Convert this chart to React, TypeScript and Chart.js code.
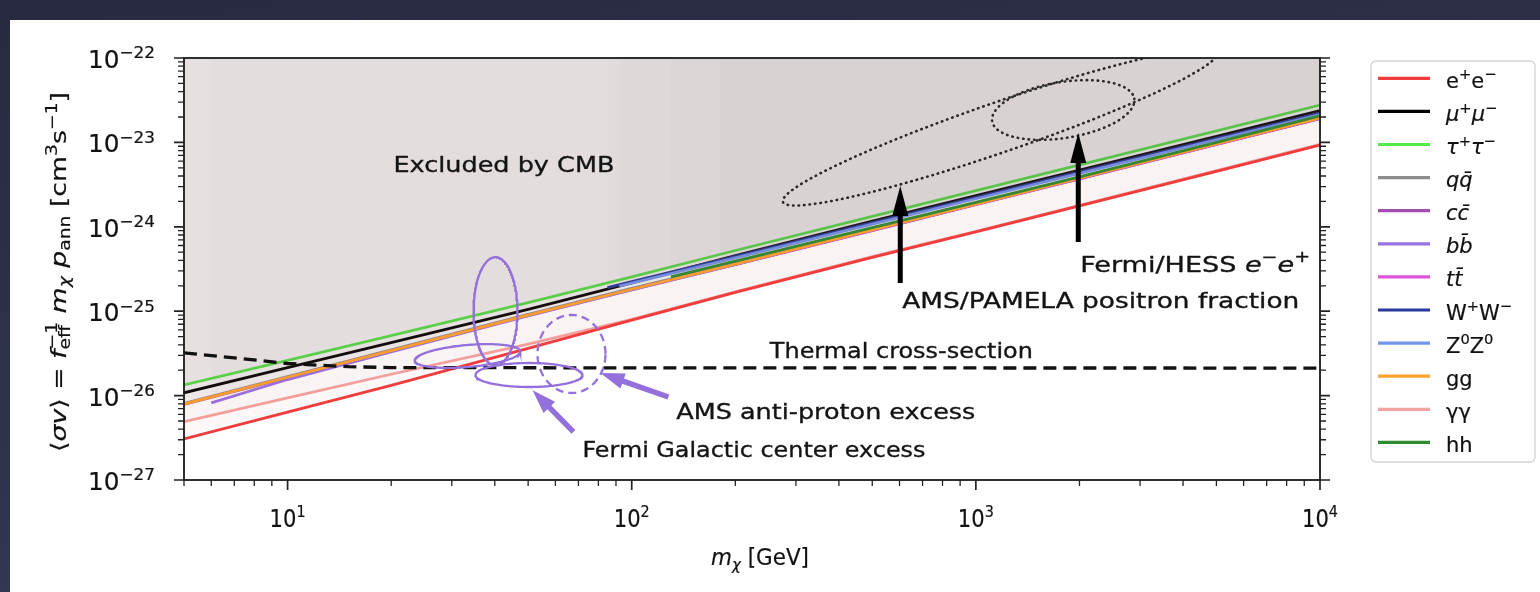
import React, { useEffect, useRef } from 'react';
import { Chart, registerables } from 'chart.js';

Chart.register(...registerables);

// ---------------- data ----------------
const MASS = [5, 10, 20, 50, 100, 200, 500, 1000, 2000, 5000, 10000];
const MASS_BB = [6, 10, 20, 50, 100, 200, 500, 1000, 2000, 5000, 10000];
const MASS_TT = [180, 200, 500, 1000, 2000, 5000, 10000];
const MASS_WW = [85, 100, 200, 500, 1000, 2000, 5000, 10000];
const MASS_ZZ = [92, 100, 200, 500, 1000, 2000, 5000, 10000];
const MASS_HH = [130, 200, 500, 1000, 2000, 5000, 10000];

const SV_EE = [3.06e-27, 6.37e-27, 1.32e-26, 3.63e-26, 7.83e-26, 1.667e-25, 4.34e-25, 8.69e-25, 1.766e-24, 4.53e-24, 9.31e-24];
const SV_MUMU = [1.08e-26, 2.14e-26, 4.25e-26, 1.05e-25, 2.17e-25, 4.56e-25, 1.17e-24, 2.34e-24, 4.7e-24, 1.18e-23, 2.38e-23];
const SV_TAUTAU = [1.34e-26, 2.62e-26, 5.15e-26, 1.26e-25, 2.55e-25, 5.24e-25, 1.33e-24, 2.69e-24, 5.43e-24, 1.37e-23, 2.77e-23];
const SV_QQ = [8.1e-27, 1.68e-26, 3.49e-26, 9.2e-26, 1.86e-25, 3.7e-25, 9.35e-25, 1.9e-24, 3.85e-24, 9.8e-24, 1.98e-23];
const SV_CC = [7.86e-27, 1.63e-26, 3.39e-26, 8.9e-26, 1.8e-25, 3.58e-25, 9.08e-25, 1.84e-24, 3.73e-24, 9.5e-24, 1.92e-23];
const SV_BB = [8.2e-27, 1.55e-26, 3.3e-26, 8.8e-26, 1.79e-25, 3.56e-25, 9.0e-25, 1.83e-24, 3.7e-24, 9.45e-24, 1.91e-23];
const SV_TT = [3.23e-25, 3.58e-25, 9.08e-25, 1.84e-24, 3.73e-24, 9.5e-24, 1.92e-23];
const SV_WW = [1.9e-25, 2.24e-25, 4.47e-25, 1.12e-24, 2.24e-24, 4.47e-24, 1.12e-23, 2.23e-23];
const SV_ZZ = [1.98e-25, 2.15e-25, 4.29e-25, 1.075e-24, 2.15e-24, 4.29e-24, 1.075e-23, 2.14e-23];
const SV_GG = [7.94e-27, 1.65e-26, 3.42e-26, 9.0e-26, 1.82e-25, 3.62e-25, 9.17e-25, 1.86e-24, 3.77e-24, 9.6e-24, 1.94e-23];
const SV_GAMGAM = [4.91e-27, 9.38e-27, 1.79e-26, 4.06e-26, 7.99e-26, 1.7e-25, 4.43e-25, 8.86e-25, 1.8e-24, 4.62e-24, 9.5e-24];
const SV_HH = [2.55e-25, 3.93e-25, 9.8e-25, 1.95e-24, 3.9e-24, 1.0e-23, 2.06e-23];

const THERMAL_MASS = [5, 7, 10, 15, 20, 100, 10000];
const THERMAL_SV = [3.2e-26, 2.8e-26, 2.4e-26, 2.2e-26, 2.15e-26, 2.13e-26, 2.12e-26];

const CHANNEL_LABELS = ['e⁺e⁻', 'μ⁺μ⁻', 'τ⁺τ⁻', 'qq̄', 'cc̄', 'bb̄', 'tt̄', 'W⁺W⁻', 'Z⁰Z⁰', 'gg', 'γγ', 'hh'];
const CHANNEL_MASS = [MASS, MASS, MASS, MASS, MASS, MASS_BB, MASS_TT, MASS_WW, MASS_ZZ, MASS, MASS, MASS_HH];
const CHANNEL_SV = [SV_EE, SV_MUMU, SV_TAUTAU, SV_QQ, SV_CC, SV_BB, SV_TT, SV_WW, SV_ZZ, SV_GG, SV_GAMGAM, SV_HH];

// ellipses: [centre log10 m, centre log10 <σv>, u_m, u_σ, v_m, v_σ] (decades)
const ELLIPSE_AMS_PAMELA = [3.0709, -22.8175, 0.6317, 0.8874, 0.0236, -0.2798];
const ELLIPSE_FERMI_HESS = [3.2538, -22.616, 0.2065, 0.1334, 0.0127, -0.3277];
const ELLIPSE_GCE_A = [1.6041, -25.0, 0.0639, 0, 0, 0.64];
const ELLIPSE_GCE_B = [1.5228, -25.531, 0.1534, 0.0547, 0.0028, -0.1298];
const ELLIPSE_GCE_C = [1.7014, -25.756, 0.1554, 0, 0, 0.1422];
const ELLIPSE_PBAR = [1.8249, -25.507, 0.0988, 0, 0, 0.462];

// arrows: [m tail, σv tail, m tip, σv tip]
const ARROW_AMS_PAMELA = [603, 2.16e-25, 603, 3.04e-24];
const ARROW_FERMI_HESS = [1984, 6.6e-25, 1984, 1.29e-23];
const ARROW_GCE = [67.7, 3.71e-27, 51.5, 1.16e-26];
const ARROW_PBAR = [127.8, 9.62e-27, 81.1, 1.85e-26];

const X_MAJOR_EXP = [1, 2, 3, 4];
const Y_MAJOR_EXP = [-27, -26, -25, -24, -23, -22];

// ---------------- styles ----------------
const CHANNEL_COLORS = ['#f03c3c', '#000000', '#55e84a', '#8c8c8c', '#a34db0', '#9a72e6', '#dd55d8', '#27399a', '#7294ec', '#ffa330', '#f5a3a0', '#2e8b30'];
const CHANNEL_ITALIC = [false, true, true, true, true, true, true, false, false, false, false, false];
const CHANNEL_ORDER = [0, 11, 10, 9, 8, 7, 6, 5, 4, 3, 2, 1];
const EE_FILL = 'rgba(240,60,60,0.045)';
const OTHER_FILL = 'rgba(122,104,102,0.027)';
const PURPLE = '#9370db';
const FAM = '"DejaVu Sans", sans-serif';

type Seg = { t: string; it?: boolean; sup?: boolean; sub?: boolean; stack?: boolean };

function ellipsePoints(e: number[], n = 180) {
  const pts: { x: number; y: number }[] = [];
  for (let k = 0; k <= n; k++) {
    const t = (2 * Math.PI * k) / n;
    const lx = e[0] + Math.cos(t) * e[2] + Math.sin(t) * e[4];
    const ly = e[1] + Math.cos(t) * e[3] + Math.sin(t) * e[5];
    pts.push({ x: Math.pow(10, lx), y: Math.pow(10, ly) });
  }
  return pts;
}

function drawRich(
  ctx: CanvasRenderingContext2D,
  segs: Seg[],
  x: number,
  y: number,
  o: { size: number; align?: 'left' | 'center' | 'right'; sx?: number; width?: number; color?: string; supRaise?: number; subDrop?: number; ss?: number; bold?: number }
) {
  const size = o.size;
  const ss = o.ss ?? 0.7;
  const fontOf = (s: Seg) => `${s.it ? 'italic ' : ''}${s.sup || s.sub ? size * ss : size}px ${FAM}`;
  let cx = 0, prevStart = 0, prevW = 0, total = 0;
  const placed: { s: Seg; x: number }[] = [];
  for (const s of segs) {
    ctx.font = fontOf(s);
    const w = ctx.measureText(s.t).width;
    let x0: number;
    if (s.stack) {
      x0 = prevStart;
      cx = prevStart + Math.max(prevW, w);
    } else {
      x0 = cx;
      cx += w;
    }
    placed.push({ s, x: x0 });
    prevStart = x0;
    prevW = w;
    total = Math.max(total, cx);
  }
  const sx = o.width ? o.width / total : o.sx ?? 1;
  const W = total * sx;
  const xs = o.align === 'center' ? x - W / 2 : o.align === 'right' ? x - W : x;
  ctx.save();
  ctx.translate(xs, y);
  ctx.scale(sx, 1);
  ctx.fillStyle = o.color ?? '#111';
  ctx.strokeStyle = o.color ?? '#111';
  ctx.lineWidth = o.bold ?? 0;
  ctx.lineJoin = 'round';
  ctx.textBaseline = 'alphabetic';
  ctx.textAlign = 'left';
  for (const p of placed) {
    ctx.font = fontOf(p.s);
    const dy = p.s.sup ? -size * (o.supRaise ?? 0.42) : p.s.sub ? size * (o.subDrop ?? 0.2) : 0;
    ctx.fillText(p.s.t, p.x, dy);
    if (o.bold) ctx.strokeText(p.s.t, p.x, dy);
  }
  ctx.restore();
}

function labelSegs(label: string, italic: boolean): Seg[] {
  const SUP: Record<string, string> = { '⁺': '+', '⁻': '−', '⁰': '0' };
  const segs: Seg[] = [];
  for (const ch of Array.from(label)) {
    const code = ch.charCodeAt(0);
    if (code >= 0x300 && code <= 0x36f && segs.length) {
      segs[segs.length - 1].t += ch;
      continue;
    }
    if (SUP[ch]) segs.push({ t: SUP[ch], sup: true });
    else {
      const last = segs[segs.length - 1];
      if (last && !last.sup) last.t += ch;
      else segs.push({ t: ch, it: italic });
    }
  }
  return segs;
}

function drawArrow(ctx: CanvasRenderingContext2D, x1: number, y1: number, x2: number, y2: number, shaftW: number, headW: number, headL: number, color: string) {
  const dx = x2 - x1, dy = y2 - y1, len = Math.hypot(dx, dy);
  const ux = dx / len, uy = dy / len, nx = -uy, ny = ux;
  const bx = x2 - ux * headL, by = y2 - uy * headL;
  ctx.save();
  ctx.fillStyle = color;
  ctx.beginPath();
  ctx.moveTo(x1 + (nx * shaftW) / 2, y1 + (ny * shaftW) / 2);
  ctx.lineTo(bx + (nx * shaftW) / 2, by + (ny * shaftW) / 2);
  ctx.lineTo(bx + (nx * headW) / 2, by + (ny * headW) / 2);
  ctx.lineTo(x2, y2);
  ctx.lineTo(bx - (nx * headW) / 2, by - (ny * headW) / 2);
  ctx.lineTo(bx - (nx * shaftW) / 2, by - (ny * shaftW) / 2);
  ctx.lineTo(x1 - (nx * shaftW) / 2, y1 - (ny * shaftW) / 2);
  ctx.closePath();
  ctx.fill();
  ctx.restore();
}

function logTickValues(min: number, max: number) {
  const out: { v: number; major: boolean }[] = [];
  for (let e = Math.floor(Math.log10(min)); e <= Math.ceil(Math.log10(max)); e++) {
    for (let d = 1; d <= 9; d++) {
      const v = d * Math.pow(10, e);
      if (v >= min * 0.999 && v <= max * 1.001) out.push({ v, major: d === 1 });
    }
  }
  return out;
}

// annotations: text segments, anchor (m, σv) at left baseline, target width
const NOTES: { segs: Seg[]; m: number; s: number; w: number }[] = [
  { segs: [{ t: 'Excluded by CMB' }], m: 20.3, s: 4.5e-24, w: 221 },
  { segs: [{ t: 'Thermal cross-section' }], m: 252, s: 2.82e-26, w: 263 },
  { segs: [{ t: 'Fermi/HESS ' }, { t: 'e', it: true }, { t: '−', sup: true }, { t: 'e', it: true }, { t: '+', sup: true }], m: 2009, s: 2.94e-25, w: 230 },
  { segs: [{ t: 'AMS/PAMELA positron fraction' }], m: 611, s: 1.08e-25, w: 397 },
  { segs: [{ t: 'AMS anti-proton excess' }], m: 134.8, s: 5.3e-27, w: 299 },
  { segs: [{ t: 'Fermi Galactic center excess' }], m: 71.9, s: 1.87e-27, w: 343 },
];

const decor = {
  id: 'decor',
  afterDatasetsDraw(chart: any) {
    const ctx: CanvasRenderingContext2D = chart.ctx;
    const xs = chart.scales.x, ys = chart.scales.y;
    const arrows: [number[], string, number, number, number][] = [
      [ARROW_AMS_PAMELA, '#000', 5, 16, 30],
      [ARROW_FERMI_HESS, '#000', 5, 16, 30],
      [ARROW_GCE, PURPLE, 5.5, 16, 24],
      [ARROW_PBAR, PURPLE, 5.5, 16, 24],
    ];
    for (const [a, col, sw, hw, hl] of arrows) {
      drawArrow(ctx, xs.getPixelForValue(a[0]), ys.getPixelForValue(a[1]), xs.getPixelForValue(a[2]), ys.getPixelForValue(a[3]), sw, hw, hl, col);
    }
    for (const n of NOTES) {
      drawRich(ctx, n.segs, xs.getPixelForValue(n.m), ys.getPixelForValue(n.s), { size: 22, width: n.w, color: '#141414', bold: 0.35 });
    }
  },
  afterDraw(chart: any) {
    const ctx: CanvasRenderingContext2D = chart.ctx;
    const { left, top, right, bottom } = chart.chartArea;
    const xs = chart.scales.x, ys = chart.scales.y;
    ctx.save();
    // spines
    ctx.strokeStyle = '#1a1a1a';
    ctx.lineWidth = 1.8;
    ctx.strokeRect(left, top, right - left, bottom - top);
    // ticks
    ctx.strokeStyle = '#222';
    for (const t of logTickValues(xs.min, xs.max)) {
      const px = xs.getPixelForValue(t.v);
      ctx.lineWidth = t.major ? 1.7 : 1.3;
      ctx.beginPath();
      ctx.moveTo(px, bottom);
      ctx.lineTo(px, bottom + (t.major ? 10 : 6));
      ctx.stroke();
    }
    for (const t of logTickValues(ys.min, ys.max)) {
      const py = ys.getPixelForValue(t.v);
      const L = t.major ? 10 : 6;
      ctx.lineWidth = t.major ? 1.7 : 1.3;
      ctx.beginPath();
      ctx.moveTo(left, py);
      ctx.lineTo(left - L, py);
      ctx.moveTo(right, py);
      ctx.lineTo(right + L, py);
      ctx.stroke();
    }
    ctx.restore();
    // tick labels
    for (const e of X_MAJOR_EXP) {
      const px = xs.getPixelForValue(Math.pow(10, e));
      drawRich(ctx, [{ t: '10' }, { t: String(e), sup: true }], px, bottom + 47, { size: 24, width: 36, align: 'center', supRaise: 0.4, ss: 0.68, bold: 0.2 });
    }
    for (const e of Y_MAJOR_EXP) {
      const py = ys.getPixelForValue(Math.pow(10, e));
      drawRich(ctx, [{ t: '10' }, { t: '−' + Math.abs(e), sup: true }], left - 29, py + 10, { size: 24, width: 67, align: 'right', supRaise: 0.4, ss: 0.68, bold: 0.2 });
    }
    // axis titles
    drawRich(ctx, [{ t: 'm', it: true }, { t: 'χ', it: true, sub: true }, { t: ' [GeV]' }], (left + right) / 2 + 8, bottom + 85, { size: 23, width: 98, align: 'center', bold: 0.2 });
    ctx.save();
    ctx.translate(56, (top + bottom) / 2 + 3);
    ctx.rotate(-Math.PI / 2);
    drawRich(
      ctx,
      [
        { t: '⟨' }, { t: 'σv', it: true }, { t: '⟩ = ' }, { t: 'f', it: true }, { t: 'eff', sub: true }, { t: '−1', sup: true, stack: true },
        { t: ' ' }, { t: 'm', it: true }, { t: 'χ', it: true, sub: true }, { t: ' ' }, { t: 'p', it: true }, { t: 'ann', sub: true },
        { t: ' [cm' }, { t: '3', sup: true }, { t: 's' }, { t: '−1', sup: true }, { t: ']' },
      ],
      0, 0, { size: 21.5, width: 360, align: 'center', bold: 0.2 }
    );
    ctx.restore();
    // legend
    const bx = right + 51, by = top + 3, bw = 164, bh = 401;
    ctx.save();
    ctx.beginPath();
    (ctx as any).roundRect(bx, by, bw, bh, 5);
    ctx.fillStyle = 'rgba(255,255,255,0.9)';
    ctx.fill();
    ctx.strokeStyle = '#d2d2d2';
    ctx.lineWidth = 1.3;
    ctx.stroke();
    ctx.restore();
    const chans = chart.data.datasets.filter((d: any) => d.isChannel);
    chans.forEach((d: any, i: number) => {
      const ry = by + 17.3 + i * 33.1;
      ctx.save();
      ctx.strokeStyle = d.borderColor;
      ctx.lineWidth = 3.2;
      ctx.beginPath();
      ctx.moveTo(bx + 7, ry);
      ctx.lineTo(bx + 59, ry);
      ctx.stroke();
      ctx.restore();
      drawRich(ctx, labelSegs(d.label, CHANNEL_ITALIC[i]), bx + 75, ry + 9.5, { size: 21, color: '#111', supRaise: 0.4, bold: 0.2 });
    });
  },
};

export default function App() {
  const ref = useRef<HTMLCanvasElement | null>(null);
  useEffect(() => {
    document.body.style.margin = '0';
    if (!ref.current) return;
    const channelSets = CHANNEL_LABELS.map((label, i) => ({
      label,
      isChannel: true,
      data: CHANNEL_MASS[i].map((m, k) => ({ x: m, y: CHANNEL_SV[i][k] })),
      borderColor: CHANNEL_COLORS[i],
      backgroundColor: i === 0 ? EE_FILL : OTHER_FILL,
      borderWidth: 2.8,
      fill: 'end',
      pointRadius: 0,
      order: CHANNEL_ORDER[i],
    }));
    const curve = (label: string, pts: { x: number; y: number }[], color: string, width: number, dash: number[], order: number, cap = 'butt') => ({
      label,
      isChannel: false,
      data: pts,
      borderColor: color,
      backgroundColor: color,
      borderWidth: width,
      borderDash: dash,
      borderCapStyle: cap,
      fill: false,
      pointRadius: 0,
      order,
    });
    const chart = new Chart(ref.current, {
      type: 'line',
      data: {
        datasets: [
          ...channelSets,
          curve('Thermal', THERMAL_MASS.map((m, k) => ({ x: m, y: THERMAL_SV[k] })), '#111', 3.3, [13, 7], -1),
          curve('AMS/PAMELA', ellipsePoints(ELLIPSE_AMS_PAMELA), '#2a2a2a', 2.6, [0.5, 5], -2, 'round'),
          curve('Fermi/HESS', ellipsePoints(ELLIPSE_FERMI_HESS), '#2a2a2a', 2.6, [0.5, 5], -2, 'round'),
          curve('GCE A', ellipsePoints(ELLIPSE_GCE_A), PURPLE, 2.3, [], -2),
          curve('GCE B', ellipsePoints(ELLIPSE_GCE_B), PURPLE, 2.3, [], -2),
          curve('GCE C', ellipsePoints(ELLIPSE_GCE_C), PURPLE, 2.3, [], -2),
          curve('AMS pbar', ellipsePoints(ELLIPSE_PBAR), PURPLE, 2.3, [8, 5], -2),
        ] as any,
      },
      options: {
        responsive: false,
        animation: false,
        events: [],
        layout: { padding: { left: 174, top: 38, right: 220, bottom: 112 } },
        plugins: { legend: { display: false }, tooltip: { enabled: false } },
        elements: { point: { radius: 0 }, line: { tension: 0 } },
        scales: {
          x: { type: 'logarithmic', min: 5, max: 10000, display: false },
          y: { type: 'logarithmic', min: 1e-27, max: 1e-22, display: false },
        },
      } as any,
      plugins: [decor],
    });
    return () => chart.destroy();
  }, []);
  return (
    <div
      style={{
        position: 'relative',
        width: 1540,
        height: 592,
        overflow: 'hidden',
        background: 'linear-gradient(170deg, #272a41 0%, #30334c 55%, #3b3e5a 100%)',
      }}
    >
      <div style={{ position: 'absolute', left: 10, top: 20, width: 1530, height: 572, background: '#ffffff' }}>
        <canvas ref={ref} width={1530} height={572} style={{ display: 'block', width: 1530, height: 572 }} />
      </div>
    </div>
  );
}
